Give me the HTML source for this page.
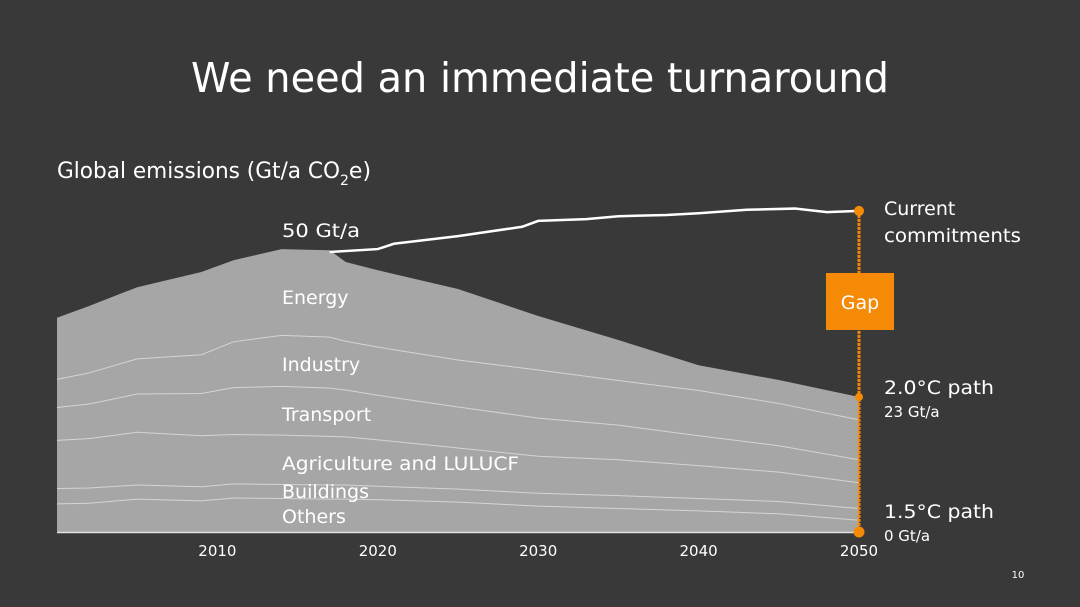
<!DOCTYPE html>
<html><head><meta charset="utf-8"><style>
html,body{margin:0;padding:0;background:#393939;}
svg{display:block;font-family:"DejaVu Sans","Liberation Sans",sans-serif;}
</style></head><body>
<svg id="chart" width="1080" height="607" viewBox="0 0 1080 607">
<rect x="0" y="0" width="1080" height="607" fill="#393939"/>
<text x="540" y="92" text-anchor="middle" font-size="41" fill="#ffffff" textLength="698" lengthAdjust="spacingAndGlyphs">We need an immediate turnaround</text>
<text x="57" y="178" font-size="22" fill="#ffffff"><tspan textLength="283" lengthAdjust="spacingAndGlyphs">Global emissions (Gt/a CO</tspan><tspan font-size="14" dy="7">2</tspan><tspan font-size="22" dy="-7">e)</tspan></text>
<g id="layers"></g>
<g id="lines"></g>
<g id="axis"></g>
<g id="labels" font-size="19" fill="#ffffff">
<text x="282" y="237" textLength="78" lengthAdjust="spacingAndGlyphs">50 Gt/a</text>
<text x="282" y="304">Energy</text>
<text x="282" y="371">Industry</text>
<text x="282" y="421">Transport</text>
<text x="282" y="470" textLength="237" lengthAdjust="spacingAndGlyphs">Agriculture and LULUCF</text>
<text x="282" y="498">Buildings</text>
<text x="282" y="523">Others</text>
<text x="884" y="215">Current</text>
<text x="884" y="242" textLength="137" lengthAdjust="spacingAndGlyphs">commitments</text>
<text x="884" y="394" textLength="110" lengthAdjust="spacingAndGlyphs">2.0°C path</text>
<text x="884" y="417" font-size="15">23 Gt/a</text>
<text x="884" y="518" textLength="110" lengthAdjust="spacingAndGlyphs">1.5°C path</text>
<text x="884" y="541" font-size="15">0 Gt/a</text>
</g>
<text x="1018" y="578" font-size="10" fill="#ffffff" text-anchor="middle">10</text>
</svg>
<script>
const years = [2000,2002,2005,2009,2011,2014,2017,2018,2020,2025,2030,2035,2040,2045,2050];
const others    = [4.8,4.9,5.6,5.3,5.8,5.7,5.6,5.6,5.5,5.1,4.4,4.0,3.6,3.1,2.0];
const buildings = [2.6,2.6,2.4,2.4,2.4,2.4,2.4,2.4,2.3,2.2,2.2,2.2,2.1,2.1,2.0];
const agriculture=[8.2,8.4,9.0,8.7,8.4,8.4,8.3,8.2,7.9,7.0,6.3,6.1,5.6,5.0,4.4];
const transport = [5.6,5.9,6.5,7.2,8.0,8.3,8.2,8.0,7.6,7.0,6.5,5.9,5.1,4.5,3.9];
const industry  = [4.8,5.3,6.0,6.6,7.8,8.7,8.7,8.3,8.2,8.0,8.2,7.6,7.7,7.2,6.8];
const energy    = [10.5,11.4,12.2,14.1,13.9,14.7,14.8,13.5,13.1,12.1,9.2,6.9,4.3,4.0,3.9];
const commitYears = [2017,2020,2021,2025,2029,2030,2033,2035,2038,2040,2043,2046,2048,2050];
const commitValues= [47.7,48.2,49.1,50.4,52.0,53.0,53.3,53.8,54.0,54.3,54.9,55.1,54.5,54.7];
const tickYears = [2010,2020,2030,2040,2050];
const target2C = 23, target15C = 0;

const NS="http://www.w3.org/2000/svg";
const xS = y => 57 + (y-2000)*(859-57)/50;
const yS = v => 532 - v*5.87;
function mk(tag, parent){const e=document.createElementNS(NS,tag);document.getElementById(parent).appendChild(e);return e;}

const series=[others,buildings,agriculture,transport,industry,energy];
const names=['others','buildings','agriculture','transport','industry','energy'];
let cum=years.map(()=>0);
const tops=[];
series.forEach(s=>{cum=cum.map((c,i)=>c+s[i]);tops.push(cum.slice());});
const total=tops[tops.length-1];
let d='M'+xS(years[0])+','+yS(0);
years.forEach((y,i)=>{d+=' L'+xS(y)+','+yS(total[i]);});
d+=' L'+xS(years[years.length-1])+','+yS(0)+' Z';
const area=mk('path','layers');
area.setAttribute('d',d);area.setAttribute('fill','#a6a6a6');


for(let k=0;k<tops.length-1;k++){
  const p=mk('polyline','lines');
  p.setAttribute('points',years.map((y,i)=>xS(y)+','+yS(tops[k][i])).join(' '));
  p.setAttribute('fill','none');p.setAttribute('stroke','#d4d4d4');p.setAttribute('stroke-width','1');
  
  
}
const cl=mk('polyline','lines');
cl.setAttribute('points',commitYears.map((y,i)=>xS(y)+','+yS(commitValues[i])).join(' '));
cl.setAttribute('fill','none');cl.setAttribute('stroke','#ffffff');cl.setAttribute('stroke-width','2.5');


const ax=mk('line','axis');
ax.setAttribute('x1',57);ax.setAttribute('x2',859);ax.setAttribute('y1',yS(0)+0.5);ax.setAttribute('y2',yS(0)+0.5);
ax.setAttribute('stroke','#e0e0e0');ax.setAttribute('stroke-width','1.5');


tickYears.forEach(t=>{
  const tx=mk('text','axis');
  tx.setAttribute('x',xS(t));tx.setAttribute('y',556);
  tx.setAttribute('text-anchor','middle');tx.setAttribute('font-size','15');tx.setAttribute('fill','#ffffff');
  tx.textContent=t;
  
  
});
const gx=xS(2050), endC=commitValues[commitValues.length-1];
const gl=mk('line','axis');
gl.setAttribute('x1',gx);gl.setAttribute('x2',gx);gl.setAttribute('y1',yS(endC));gl.setAttribute('y2',yS(target15C));
gl.setAttribute('stroke','#f58a07');gl.setAttribute('stroke-width','3');gl.setAttribute('stroke-dasharray','3,1');


[[endC,5,'dot-commitments'],[target2C,4,'dot-2c'],[target15C,5.5,'dot-15c']].forEach(([v,r,n])=>{
  const c=mk('circle','axis');
  c.setAttribute('cx',gx);c.setAttribute('cy',yS(v));c.setAttribute('r',r);c.setAttribute('fill','#f58a07');
  
  
});
const gb=mk('rect','axis');
gb.setAttribute('x',826);gb.setAttribute('y',273);gb.setAttribute('width',68);gb.setAttribute('height',57);gb.setAttribute('fill','#f58a07');


const gt=mk('text','axis');
gt.setAttribute('x',860);gt.setAttribute('y',309);gt.setAttribute('text-anchor','middle');gt.setAttribute('font-size','19');gt.setAttribute('fill','#ffffff');
gt.textContent='Gap';


</script>
</body></html>
